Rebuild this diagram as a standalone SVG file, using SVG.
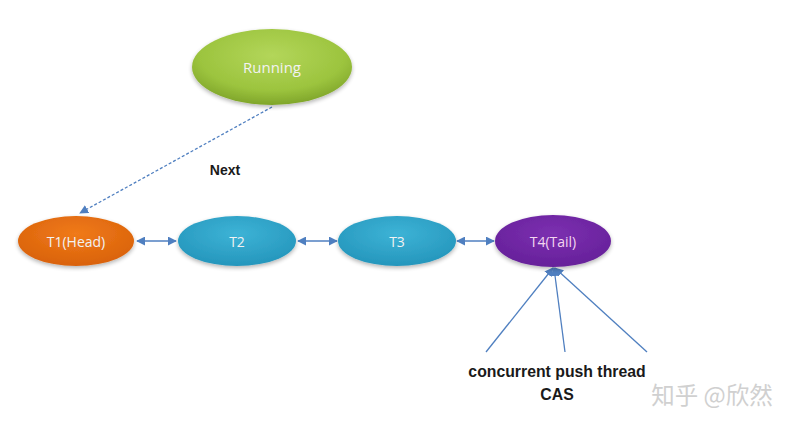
<svg xmlns="http://www.w3.org/2000/svg" width="794" height="427" viewBox="0 0 794 427">
<defs>
<radialGradient id="gGreen" cx="50%" cy="35%" r="65%"><stop offset="0" stop-color="#b3d65a"/><stop offset="0.7" stop-color="#9cc43e"/><stop offset="1" stop-color="#7fa52a"/></radialGradient>
<radialGradient id="gOrange" cx="50%" cy="35%" r="65%"><stop offset="0" stop-color="#f07a1a"/><stop offset="1" stop-color="#d9620a"/></radialGradient>
<radialGradient id="gBlue" cx="50%" cy="35%" r="65%"><stop offset="0" stop-color="#3db3d6"/><stop offset="1" stop-color="#2596bc"/></radialGradient>
<radialGradient id="gPurple" cx="50%" cy="35%" r="65%"><stop offset="0" stop-color="#7c30b0"/><stop offset="1" stop-color="#66209a"/></radialGradient>
<filter id="sh" x="-20%" y="-20%" width="140%" height="150%"><feGaussianBlur in="SourceAlpha" stdDeviation="2"/><feOffset dy="2"/><feComponentTransfer><feFuncA type="linear" slope="0.3"/></feComponentTransfer><feMerge><feMergeNode/><feMergeNode in="SourceGraphic"/></feMerge></filter>
<marker id="ah" viewBox="0 0 10 10" refX="9" refY="5" markerWidth="9" markerHeight="9" markerUnits="userSpaceOnUse" orient="auto-start-reverse"><path d="M0,0 L10,5 L0,10 z" fill="#4f7fc0"/></marker>
</defs>
<style>
.lbl{font-family:"Open Sans","Liberation Sans",sans-serif;font-size:14px;fill:#f2f2f2;text-anchor:middle;dominant-baseline:central}
.bold{font-family:"Liberation Sans",Arial,sans-serif;font-weight:bold;fill:#1a1a1a;text-anchor:middle}
.conn{stroke:#4f7fc0;stroke-width:1.3;fill:none}
</style>
<rect width="794" height="427" fill="#ffffff"/>
<g id="connectors">
<line class="conn" x1="272" y1="107" x2="80" y2="213" stroke-dasharray="3,2" marker-end="url(#ah)"/>
<line class="conn" x1="137" y1="241" x2="176" y2="241" marker-start="url(#ah)" marker-end="url(#ah)"/>
<line class="conn" x1="298" y1="241" x2="337" y2="241" marker-start="url(#ah)" marker-end="url(#ah)"/>
<line class="conn" x1="457" y1="241" x2="494" y2="241" marker-start="url(#ah)" marker-end="url(#ah)"/>
<line class="conn" x1="486" y1="352" x2="553" y2="268" marker-end="url(#ah)"/>
<line class="conn" x1="565" y1="352" x2="554" y2="268" marker-end="url(#ah)"/>
<line class="conn" x1="647" y1="352" x2="555" y2="268" marker-end="url(#ah)"/>
</g>
<g id="running"><ellipse cx="272" cy="67" rx="80" ry="38" fill="url(#gGreen)" filter="url(#sh)"/><text class="lbl" x="272" y="67" style="font-size:15px">Running</text></g>
<g id="t1"><ellipse cx="76" cy="241" rx="58" ry="25" fill="url(#gOrange)" filter="url(#sh)"/><text class="lbl" x="76" y="241">T1(Head)</text></g>
<g id="t2"><ellipse cx="237" cy="241" rx="59" ry="25" fill="url(#gBlue)" filter="url(#sh)"/><text class="lbl" x="237" y="241">T2</text></g>
<g id="t3"><ellipse cx="397" cy="241" rx="59" ry="25" fill="url(#gBlue)" filter="url(#sh)"/><text class="lbl" x="397" y="241">T3</text></g>
<g id="t4"><ellipse cx="553" cy="241" rx="58" ry="26" fill="url(#gPurple)" filter="url(#sh)"/><text class="lbl" x="553" y="241" style="fill:#f3d6f0">T4(Tail)</text></g>
<text class="bold" x="225" y="175" font-size="14">Next</text>
<text class="bold" x="557" y="377" font-size="15.8">concurrent push thread</text>
<text class="bold" x="557" y="400" font-size="15.8">CAS</text>
<text x="712" y="404" font-family="'Noto Sans CJK SC',sans-serif" font-size="23.5" fill="#d0d0d0" text-anchor="middle">知乎 @欣然</text>
</svg>
